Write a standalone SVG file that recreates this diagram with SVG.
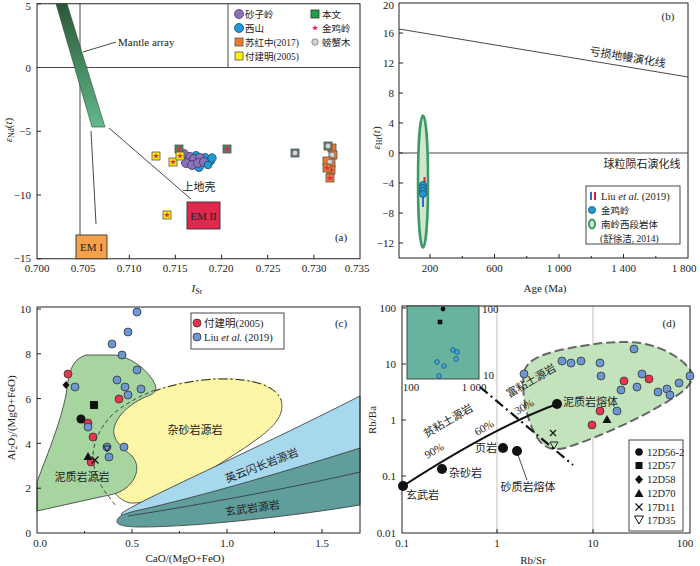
<svg xmlns="http://www.w3.org/2000/svg" width="700" height="566" viewBox="0 0 700 566">
<style>
.ax{fill:none;stroke:#222;stroke-width:1}
.ln{fill:none;stroke:#333;stroke-width:0.9}
.t{font-family:'Liberation Serif','Noto Sans CJK SC',serif;font-size:11px;fill:#222}
.s{font-size:10.5px}
.lg{font-size:10px}
.la{font-size:9.5px}
.cj{font-family:'Noto Sans CJK SC','Liberation Serif',sans-serif}
.m{text-anchor:middle}
.e{text-anchor:end}
.sq{stroke:#555;stroke-width:0.8}
.or{fill:#f07828}.ye{fill:#fff000}.gr{fill:#4f8060}
.pu{fill:#8b72b8;stroke:#3a3a5a;stroke-width:0.8}
.bl{fill:#1e9ad6;stroke:#1b4a6a;stroke-width:0.8}
.gy{fill:#d4d4d4;stroke:#777;stroke-width:0.8}
.rd{fill:#e8344e;stroke:#333;stroke-width:0.8}
.sb{fill:#6d97d1;stroke:#333;stroke-width:0.8}
.bk{fill:#111}
.st{fill:#e0284f}
</style>
<defs>
<linearGradient id="ma" x1="0" y1="0" x2="0" y2="1">
<stop offset="0" stop-color="#2b5737"/>
<stop offset="1" stop-color="#62b98c"/>
</linearGradient>
<path id="star" d="M0,-3.2 L0.76,-1.05 L3.04,-0.99 L1.24,0.4 L1.88,2.59 L0,1.3 L-1.88,2.59 L-1.24,0.4 L-3.04,-0.99 L-0.76,-1.05 Z"/>
</defs>

<!-- ============ Panel (a) ============ -->
<g id="panel-a">
<g id="a-axes">
<rect class="ax" x="37" y="3.75" width="323" height="255"/>
<path class="ax" d="M37,67.5H41M37,131.25H41M37,195H41M37,3.75H41M37,258.75H41M83.1,258.75V254.75M129.3,258.75V254.75M175.4,258.75V254.75M221.6,258.75V254.75M267.7,258.75V254.75M313.9,258.75V254.75"/>
<g class="t e">
<text x="31" y="9.5">5</text>
<text x="31" y="71.5">0</text>
<text x="31" y="135">−5</text>
<text x="31" y="199">−10</text>
<text x="31" y="262">−15</text>
</g>
<g class="t m">
<text x="37" y="272">0.700</text>
<text x="83" y="272">0.705</text>
<text x="129" y="272">0.710</text>
<text x="175" y="272">0.715</text>
<text x="221" y="272">0.720</text>
<text x="268" y="272">0.725</text>
<text x="314" y="272">0.730</text>
<text x="357" y="272">0.735</text>
</g>
<text class="t m" x="197" y="292" font-style="italic" font-size="12">I<tspan font-size="8" font-style="normal" dy="2">Sr</tspan></text>
<text class="t m" transform="translate(12,130) rotate(-90)" font-size="12"><tspan font-style="italic">ε</tspan><tspan font-size="8" dy="2">Nd</tspan><tspan dy="-2">(</tspan><tspan font-style="italic">t</tspan>)</text>
</g>
<g id="a-lines">
<line class="ln" x1="37" y1="67.5" x2="360" y2="67.5"/>
<line class="ln" x1="80" y1="3.75" x2="80" y2="235"/>
<line class="ln" x1="228" y1="3.75" x2="228" y2="67.5"/>
<polygon points="56,3.75 67,3.75 105,127 92,127" fill="url(#ma)" stroke="#2a4a30" stroke-width="0.6"/>
<line class="ln" x1="83" y1="52" x2="116" y2="42"/>
<line class="ln" x1="91" y1="131" x2="96" y2="224"/>
<line class="ln" x1="109" y1="128" x2="191" y2="199"/>
</g>
<g id="a-mantle-label"><text class="t" x="118" y="46" font-size="11.5">Mantle array</text></g>
<g id="a-em1"><rect x="76" y="235" width="31" height="23.75" fill="#f5a04a" stroke="#333" stroke-width="0.9"/><text class="t m" x="91.5" y="251">EM I</text></g>
<g id="a-em2"><rect x="187" y="202" width="33" height="27" fill="#e0284f" stroke="#333" stroke-width="0.9"/><text class="t m" x="203.5" y="220" fill="#333">EM II</text></g>
<text class="t cj m" x="199" y="191" font-size="12" fill="#777">上地壳</text>
<text class="t m" x="341" y="241" font-size="12">(a)</text>

<g id="a-data">
<circle class="bl" cx="196" cy="156" r="4.5"/>
<circle class="bl" cx="205" cy="158" r="4.5"/>
<circle class="bl" cx="210" cy="161" r="4.5"/>
<circle class="bl" cx="199" cy="167" r="4.5"/>
<circle class="pu" cx="184" cy="154" r="4.5"/>
<circle class="pu" cx="190" cy="157" r="4.5"/>
<circle class="pu" cx="194" cy="159" r="4.5"/>
<circle class="pu" cx="200" cy="158" r="4.5"/>
<circle class="pu" cx="186" cy="163" r="4.5"/>
<circle class="pu" cx="192" cy="165" r="4.5"/>
<circle class="pu" cx="198" cy="163" r="4.5"/>
<circle class="pu" cx="204" cy="162" r="4.5"/>
<circle class="bl" cx="212" cy="158" r="4.2"/>
<circle class="bl" cx="208" cy="165" r="3.8"/>

<rect class="sq ye" x="152" y="152" width="8" height="8"/><use href="#star" x="156" y="156" class="st"/>
<rect class="sq gr" x="175" y="145" width="8" height="8"/><use href="#star" x="179" y="149" class="st"/>
<rect class="sq ye" x="169" y="158" width="8" height="8"/><use href="#star" x="173" y="162" class="st"/>
<rect class="sq ye" x="176" y="152" width="8" height="8"/><use href="#star" x="180" y="156" class="st"/>
<rect class="sq gr" x="223" y="145" width="8" height="8"/><use href="#star" x="227" y="149" class="st"/>
<rect class="sq ye" x="163" y="211" width="8" height="8"/><use href="#star" x="167" y="215" class="st"/>
<rect class="sq gr" x="291" y="149" width="8" height="8"/><circle class="gy" cx="295" cy="153" r="2.8"/>

<rect class="sq or" x="328" y="144" width="8" height="8"/>
<rect class="sq gr" x="324" y="142" width="8" height="8"/><circle class="gy" cx="328" cy="146" r="2.8"/>
<rect class="sq or" x="329" y="151" width="8" height="8"/><circle class="gy" cx="332" cy="155" r="2.8"/>
<rect class="sq or" x="327" y="159" width="8" height="8"/>
<rect class="sq or" x="323" y="157" width="8" height="8"/><circle class="gy" cx="330" cy="162" r="2.8"/>
<rect class="sq or" x="327" y="166" width="8" height="8"/><use href="#star" x="331" y="170" class="st"/>
<rect class="sq or" x="323" y="164" width="8" height="8"/><use href="#star" x="327" y="168" class="st"/>
<rect class="sq or" x="326" y="174" width="8" height="8"/><use href="#star" x="330" y="178" class="st"/>
</g>

<g id="a-legend">
<circle class="pu" cx="239" cy="14" r="4.5"/><text class="t cj la" x="245" y="17.5">砂子岭</text>
<circle class="bl" cx="239" cy="28" r="4.5"/><text class="t cj la" x="245" y="31.5">西山</text>
<rect class="sq or" x="235" y="38" width="8" height="8"/><text class="t la" x="245" y="45.5"><tspan class="cj">苏红中</tspan>(2017)</text>
<rect class="sq ye" x="235" y="52" width="8" height="8"/><text class="t la" x="245" y="59.5"><tspan class="cj">付建明</tspan>(2005)</text>
<rect x="311" y="10" width="8" height="8" fill="#1fa04a" stroke="#333" stroke-width="0.8"/><text class="t cj la" x="322" y="17.5">本文</text>
<use href="#star" x="315" y="28" class="st"/><text class="t cj la" x="322" y="31.5">金鸡岭</text>
<circle class="gy" cx="315" cy="42" r="3.2"/><text class="t cj la" x="322" y="45.5">螃蟹木</text>
</g>
</g>

<!-- ============ Panel (b) ============ -->
<g id="panel-b">
<g id="b-axes">
<rect class="ax" x="399" y="3" width="289" height="255"/>
<path class="ax" d="M399,33H403M399,63H403M399,93H403M399,123H403M399,153H403M399,183H403M399,213H403M399,243H403M430,258V254M494.5,258V254M559,258V254M623.5,258V254M462.3,258V256M526.8,258V256M591.3,258V256M655.8,258V256"/>
<g class="t e">
<text x="394" y="9">20</text>
<text x="394" y="37">16</text>
<text x="394" y="67">12</text>
<text x="394" y="97">8</text>
<text x="394" y="127">4</text>
<text x="394" y="157">0</text>
<text x="394" y="187">−4</text>
<text x="394" y="217">−8</text>
<text x="394" y="247">−12</text>
</g>
<g class="t m">
<text x="430" y="272">200</text>
<text x="494.5" y="272">600</text>
<text x="559" y="272">1 000</text>
<text x="623.5" y="272">1 400</text>
<text x="684" y="272">1 800</text>
</g>
<text class="t m" x="545" y="292" font-size="11.5">Age (Ma)</text>
<text class="t m" transform="translate(380,138) rotate(-90)" font-size="12"><tspan font-style="italic">ε</tspan><tspan font-size="8" dy="2">Hf</tspan><tspan dy="-2">(</tspan><tspan font-style="italic">t</tspan>)</text>
</g>
<g id="b-lines">
<line class="ln" x1="399" y1="29" x2="688" y2="77"/>
<line class="ln" x1="399" y1="153" x2="688" y2="153"/>
</g>
<text class="t cj m" transform="translate(627,61) rotate(9.5)" font-size="12" fill="#333">亏损地幔演化线</text>
<text class="t cj m" x="642" y="168" font-size="12" fill="#333">球粒陨石演化线</text>
<text class="t m" x="668" y="20" font-size="12">(b)</text>
<g id="b-field">
<ellipse cx="423" cy="181.5" rx="5" ry="66" fill="#cfe8c8" stroke="#3c9a6a" stroke-width="2.5"/>
</g>
<g id="b-data">
<line x1="423" y1="183" x2="423" y2="207" stroke="#2a6fc0" stroke-width="2"/>
<line x1="424.5" y1="177" x2="424.5" y2="188" stroke="#e02030" stroke-width="2"/>
<circle class="bl" cx="423" cy="185" r="3.5"/>
<circle class="bl" cx="423" cy="188" r="3.5"/>
<circle class="bl" cx="423" cy="191" r="3.5"/>
<circle class="bl" cx="423" cy="194" r="3.5"/>
</g>
<g id="b-legend">
<rect x="586" y="186" width="94" height="58" fill="#fff" stroke="#333" stroke-width="0.9"/>
<line x1="591" y1="192" x2="591" y2="200" stroke="#2a6fc0" stroke-width="2"/>
<line x1="595" y1="192" x2="595" y2="200" stroke="#e02030" stroke-width="2"/>
<text class="t s" x="601" y="199.5">Liu <tspan font-style="italic">et al.</tspan> (2019)</text>
<circle class="bl" cx="592" cy="210" r="3.5"/><text class="t cj la" x="601" y="213.5">金鸡岭</text>
<ellipse cx="592" cy="224" rx="3" ry="4.5" fill="#cfe8c8" stroke="#3c9a6a" stroke-width="2"/>
<text class="t cj la" x="601" y="227.5">南岭西段岩体</text>
<text class="t la" x="600" y="241.5">(<tspan class="cj">舒徐洁</tspan>, 2014)</text>
</g>
</g>

<!-- ============ Panel (c) ============ -->
<g id="panel-c">
<g id="c-fields">
<path d="M152,392 C170,385 200,378 230,379 C255,380 276,386 281,400 C285,413 276,425 260,437 C240,452 215,466 195,480 C172,494 148,504 130,503 C118,500 110,490 108,475 C106,455 110,420 125,405 C135,397 145,394 152,392 Z" fill="#fdf6a6" stroke="#333" stroke-width="0.8"/>
<path d="M152,392 C170,385 200,378 230,379 C255,380 276,386 281,400" fill="none" stroke="#fdf6a6" stroke-width="1.6"/>
<path d="M152,392 C170,385 200,378 230,379 C255,380 276,386 281,400" fill="none" stroke="#222" stroke-width="1" stroke-dasharray="9 3 2 3"/>
<path d="M37,482 C45,460 60,425 66,395 C69,372 71,360 86,355 L115,355 C130,357 145,368 152,379 C158,388 157,392 150,395 C135,401 118,412 114,428 C112,441 124,449 132,456 C140,465 138,478 126,488 C118,494 110,495 100,497 L37,511 Z" fill="#a6d5a0" stroke="#333" stroke-width="0.8"/>
<path d="M155,390 C140,396 124,404 112,415 C100,428 94,440 93,455 C93,470 98,482 106,493 L116,506" fill="none" stroke="#333" stroke-width="0.9" stroke-dasharray="4 3"/>
<path d="M122,513 C140,500 250,452 360,396 L360,472 C300,485 200,505 132,516 C124,517 120,516 122,513 Z" fill="#a7d8ee" stroke="#333" stroke-width="0.8"/>
<path d="M117,521 C118,516 124,514 135,511 C200,497 300,467 360,448 L360,505 C300,515 200,527 140,527 C125,527 116,525 117,521 Z" fill="#5f9e9a" stroke="#333" stroke-width="0.8"/>
<path d="M128,516 C200,505 300,486 360,472" fill="none" stroke="#333" stroke-width="0.8"/>
</g>
<g id="c-axes">
<rect class="ax" x="37" y="307" width="323" height="226"/>
<path class="ax" d="M37,488.2H41M37,443.4H41M37,398.6H41M37,353.8H41M37,309H41M132,533V529M227,533V529M322,533V529M84.5,533V531M179.5,533V531M274.5,533V531"/>
<g class="t e">
<text x="31" y="313">10</text>
<text x="31" y="358">8</text>
<text x="31" y="402.5">6</text>
<text x="31" y="447.5">4</text>
<text x="31" y="492">2</text>
<text x="31" y="537">0</text>
</g>
<g class="t m">
<text x="40" y="547">0.0</text>
<text x="132" y="547">0.5</text>
<text x="227" y="547">1.0</text>
<text x="322" y="547">1.5</text>
</g>
<text class="t m" x="185" y="562" font-size="11.5">CaO/(MgO+FeO)</text>
<text class="t m" transform="translate(15,418) rotate(-90)" font-size="11.5">Al<tspan font-size="7.5" dy="2">2</tspan><tspan dy="-2">O</tspan><tspan font-size="7.5" dy="2">3</tspan><tspan dy="-2">/(MgO+FeO)</tspan></text>
</g>
<g id="c-labels">
<text class="t cj m" x="195" y="434" font-size="12" fill="#6b6020">杂砂岩源岩</text>
<text class="t cj m" transform="translate(263,469) rotate(-21)" font-size="12" fill="#2e6e8e">英云闪长岩源岩</text>
<text class="t cj m" transform="translate(253,512) rotate(-8)" font-size="12" fill="#1e4444">玄武岩源岩</text>
<text class="t cj m" x="82" y="481" font-size="12" fill="#3d6b3d">泥质岩源岩</text>
<text class="t m" x="341" y="327" font-size="12">(c)</text>
</g>
<g id="c-data">
<circle class="sb" cx="137" cy="312" r="4"/>
<circle class="sb" cx="128" cy="332" r="4"/>
<circle class="sb" cx="112" cy="344" r="4"/>
<circle class="sb" cx="122" cy="355" r="4" stroke-width="1.4"/>
<circle class="sb" cx="137" cy="370" r="4"/>
<circle class="sb" cx="117" cy="380" r="4"/>
<circle class="sb" cx="125" cy="387" r="4"/>
<circle class="sb" cx="128" cy="395" r="4"/>
<circle class="sb" cx="141" cy="389" r="4"/>
<circle class="sb" cx="75" cy="387" r="4"/>
<circle class="sb" cx="107" cy="447" r="4"/>
<circle class="sb" cx="109" cy="457" r="4"/>
<circle class="sb" cx="124" cy="447" r="4"/>
<circle class="rd" cx="68" cy="374" r="4"/>
<circle class="rd" cx="119" cy="399" r="4"/>
<circle class="rd" cx="88" cy="423" r="4"/>
<circle class="sb" cx="88" cy="427" r="4"/>
<circle class="rd" cx="93" cy="437" r="4"/>
<circle class="rd" cx="91" cy="462" r="4"/>
<polygon class="bk" points="66,381 69.5,385 66,389 62.5,385"/>
<rect class="bk" x="90" y="401" width="8" height="8"/>
<circle class="bk" cx="81" cy="419" r="4.5"/>
<polygon class="bk" points="88,452 92.5,460 83.5,460"/>
<path d="M91.5,456.5 L98.5,463.5 M98.5,456.5 L91.5,463.5" stroke="#111" stroke-width="1.2"/>
<polygon points="103.5,446 110.5,446 107,452" fill="none" stroke="#111" stroke-width="0.9"/>
</g>
<g id="c-legend">
<rect x="191" y="313" width="93" height="36" fill="#fff" stroke="#333" stroke-width="0.9"/>
<circle class="rd" cx="197" cy="323" r="4"/><text class="t s" x="204" y="327"><tspan class="cj">付建明</tspan>(2005)</text>
<circle class="sb" cx="197" cy="337" r="4"/><text class="t s" x="204" y="341">Liu <tspan font-style="italic">et al.</tspan> (2019)</text>
</g>
</g>

<!-- ============ Panel (d) ============ -->
<g id="panel-d">
<g id="d-grid">
<line x1="497" y1="306" x2="497" y2="533" stroke="#cbb8b8" stroke-width="1"/>
<line x1="593" y1="306" x2="593" y2="533" stroke="#cbb8b8" stroke-width="1"/>
</g>
<g id="d-field">
<path d="M524,372 C527,360 540,355 560,350 C590,344 615,340 640,343 C665,347 685,360 692,373 C694,386 680,394 665,403 C640,418 600,437 565,448 C548,452 540,445 533,430 C526,415 521,390 524,372 Z" fill="#c2e3bc" stroke="#666" stroke-width="2" stroke-dasharray="9 4"/>
</g>
<g id="d-axes">
<rect class="ax" x="402" y="306" width="288" height="227"/>
<path class="ax" d="M402,308H406M402,364H406M402,420H406M402,476H406M497,533V529M593,533V529"/>
<g class="t e">
<text x="396" y="312">100</text>
<text x="396" y="368">10</text>
<text x="396" y="424">1</text>
<text x="396" y="480">0.1</text>
<text x="396" y="537">0.01</text>
</g>
<g class="t m">
<text x="402" y="547">0.1</text>
<text x="497" y="547">1</text>
<text x="593" y="547">10</text>
<text x="685" y="547">100</text>
</g>
<text class="t m" x="533" y="564" font-size="11.5">Rb/Sr</text>
<text class="t m" transform="translate(376,420) rotate(-90)" font-size="11.5">Rb/Ba</text>
</g>
<g id="d-inset">
<rect x="407" y="306" width="72" height="73" fill="#67b3a0" stroke="#333" stroke-width="0.9"/>
<g class="t m" font-size="8.5">
<text x="411" y="391">100</text>
<text x="474" y="391">1 000</text>
</g>
<g class="t" font-size="8.5">
<text x="482" y="313">100</text>
<text x="483" y="378.5">10</text>
</g>
<circle class="bk" cx="443" cy="309" r="2.4"/>
<rect class="bk" x="437.7" y="319.7" width="4.6" height="4.6"/>
<circle cx="453" cy="350" r="2.3" fill="#39b0ec" stroke="#1b3b5b" stroke-width="0.7"/>
<circle cx="457" cy="352" r="2.3" fill="#39b0ec" stroke="#1b3b5b" stroke-width="0.7"/>
<circle cx="456" cy="359" r="2.3" fill="#39b0ec" stroke="#1b3b5b" stroke-width="0.7"/>
<circle cx="437" cy="362" r="2.3" fill="#39b0ec" stroke="#1b3b5b" stroke-width="0.7"/>
<circle cx="444" cy="366" r="2.3" fill="#39b0ec" stroke="#1b3b5b" stroke-width="0.7"/>
<circle cx="439" cy="376" r="2.3" fill="#39b0ec" stroke="#1b3b5b" stroke-width="0.7"/>
</g>
<g id="d-lines">
<line x1="480" y1="387" x2="573" y2="465" stroke="#111" stroke-width="2.2" stroke-dasharray="10 4 2 4"/>
<path d="M403,486 C440,462 500,425 557,404" fill="none" stroke="#111" stroke-width="2"/>
<line x1="518" y1="455" x2="527" y2="480" stroke="#333" stroke-width="0.9"/>
</g>
<g id="d-data">
<circle class="sb" cx="524" cy="374" r="4"/>
<circle class="sb" cx="562" cy="361" r="4"/>
<circle class="sb" cx="571" cy="363" r="4"/>
<circle class="sb" cx="581" cy="361" r="4"/>
<circle class="sb" cx="600" cy="363" r="4"/>
<circle class="sb" cx="601" cy="376" r="4"/>
<circle class="sb" cx="634" cy="349" r="4"/>
<circle class="sb" cx="642" cy="374" r="4"/>
<circle class="sb" cx="637" cy="387" r="4"/>
<circle class="sb" cx="621" cy="390" r="4"/>
<circle class="sb" cx="617" cy="411" r="4"/>
<circle class="sb" cx="658" cy="392" r="4"/>
<circle class="sb" cx="667" cy="389" r="4"/>
<circle class="sb" cx="670" cy="395" r="4"/>
<circle class="sb" cx="679" cy="383" r="4"/>
<circle class="sb" cx="690" cy="376" r="4"/>
<circle class="rd" cx="624" cy="381" r="4"/>
<circle class="rd" cx="649" cy="379" r="4"/>
<circle class="rd" cx="600" cy="411" r="4"/>
<circle class="rd" cx="592" cy="425" r="4"/>
<polygon class="bk" points="607,415 611.5,423 602.5,423"/>
<path d="M550,430 L556,436 M556,430 L550,436" stroke="#111" stroke-width="1.1"/>
<polygon points="550,442 558,442 554,449" fill="none" stroke="#111" stroke-width="0.9"/>
<circle class="bk" cx="403" cy="486" r="5"/>
<circle class="bk" cx="442" cy="469" r="5"/>
<circle class="bk" cx="503" cy="448" r="5"/>
<circle class="bk" cx="517" cy="451" r="5"/>
<circle class="bk" cx="557" cy="404" r="5"/>
</g>
<g id="d-labels" fill="#444">
<text class="t cj m" transform="translate(450,424) rotate(-30)" font-size="11.5" fill="#555">贫粘土源岩</text>
<text class="t cj m" transform="translate(533,384) rotate(-30)" font-size="11.5" fill="#555">富粘土源岩</text>
<text class="t m" transform="translate(436,454) rotate(-30)" font-size="11.5">90%</text>
<text class="t m" transform="translate(486,431) rotate(-30)" font-size="11.5">60%</text>
<text class="t m" transform="translate(526,410) rotate(-30)" font-size="11.5">30%</text>
<text class="t cj" x="563" y="406" font-size="12">泥质岩熔体</text>
<text class="t cj e" x="497" y="452" font-size="12">页岩</text>
<text class="t cj" x="449" y="477" font-size="12">杂砂岩</text>
<text class="t cj" x="406" y="499" font-size="12">玄武岩</text>
<text class="t cj m" x="528" y="491" font-size="12">砂质岩熔体</text>
<text class="t m" x="669" y="327" font-size="12">(d)</text>
</g>
<g id="d-legend">
<rect x="629" y="440" width="54" height="91" fill="#fff" stroke="#333" stroke-width="0.9"/>
<circle class="bk" cx="639" cy="452" r="3.8"/><text class="t s" x="647" y="456">12D56-2</text>
<rect class="bk" x="635.5" y="462" width="7" height="7"/><text class="t s" x="647" y="469">12D57</text>
<polygon class="bk" points="639,475 643,479.5 639,484 635,479.5"/><text class="t s" x="647" y="483">12D58</text>
<polygon class="bk" points="639,489 643.5,497 634.5,497"/><text class="t s" x="647" y="497">12D70</text>
<path d="M635.5,503.5 L642.5,510.5 M642.5,503.5 L635.5,510.5" stroke="#111" stroke-width="1.2"/><text class="t s" x="647" y="511">17D11</text>
<polygon points="634.5,516 643.5,516 639,524" fill="none" stroke="#111" stroke-width="1"/><text class="t s" x="647" y="524">17D35</text>
</g>
</g>
</svg>
